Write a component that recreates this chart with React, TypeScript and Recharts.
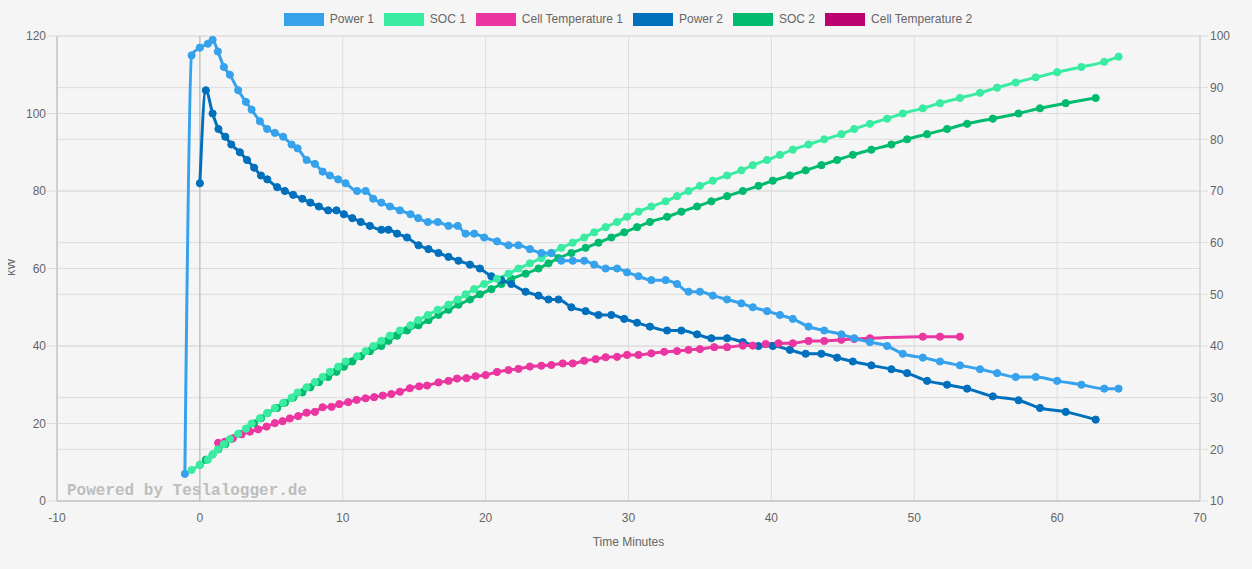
import { LineChart, Line, XAxis, YAxis, CartesianGrid, ReferenceLine } from 'recharts'

// minutes since charge start, one entry per logged sample
const power1Time = [
  -1.05, -0.58, 0, 0.56, 0.89, 1.26, 1.68, 2.1, 2.68, 3.22, 3.62, 4.2, 4.71, 5.25, 5.83, 6.42, 6.84,
  7.47, 8.05, 8.59, 9.1, 9.68, 10.2, 11.0, 11.6, 12.13, 12.7, 13.3, 14.0, 14.74, 15.28, 15.96, 16.65,
  17.4, 18.05, 18.6, 19.2, 19.9, 20.8, 21.6, 22.3, 23.1, 23.9, 24.6, 25.3, 26.1, 26.9, 27.6, 28.4,
  29.2, 29.9, 30.7, 31.6, 32.6, 33.4, 34.2, 35.0, 35.9, 36.9, 37.9, 38.7, 39.7, 40.6, 41.5, 42.6,
  43.7, 44.9, 45.8, 46.9, 48.1, 49.2, 50.6, 51.8, 53.2, 54.6, 55.8, 57.1, 58.5, 60.0, 61.7, 63.3, 64.3
]
const power1 = [
  7, 115, 117, 118, 119, 116, 112, 110, 106, 103, 101, 98, 96, 95, 94, 92, 91, 88, 87, 85, 84, 83, 82,
  80, 80, 78, 77, 76, 75, 74, 73, 72, 72, 71, 71, 69, 69, 68, 67, 66, 66, 65, 64, 64, 62, 62, 62, 61,
  60, 60, 59, 58, 57, 57, 56, 54, 54, 53, 52, 51, 50, 49, 48, 47, 45, 44, 43, 42, 41, 40, 38, 37, 36,
  35, 34, 33, 32, 32, 31, 30, 29, 29
]
const soc1 = [
  null, 16, 17, 18, 19, 20, 21, 22, 23, 24, 25, 26, 27, 28, 29, 30, 31, 32, 33, 34, 35, 36, 37, 38, 39,
  40, 41, 42, 43, 44, 45, 46, 47, 48, 49, 50, 51, 52, 53, 54, 55, 56, 57, 58, 59, 60, 61, 62, 63, 64,
  65, 66, 67, 68, 69, 70, 71, 72, 73, 74, 75, 76, 77, 78, 79, 80, 81, 82, 83, 84, 85, 86, 87, 88, 89,
  90, 91, 92, 93, 94, 95, 96
]

const temp1Time = [
  1.28, 1.75, 2.31, 2.92, 3.5, 4.08, 4.67, 5.25, 5.79, 6.3, 6.88, 7.47, 8.05, 8.59, 9.22, 9.75, 10.38,
  10.97, 11.6, 12.2, 12.8, 13.4, 14.0, 14.7, 15.35, 15.9, 16.7, 17.4, 18.0, 18.66, 19.3, 20.0, 20.8,
  21.6, 22.3, 23.1, 23.9, 24.6, 25.4, 26.1, 26.9, 27.7, 28.4, 29.2, 29.9, 30.7, 31.6, 32.5, 33.4, 34.2,
  35.0, 36.0, 36.9, 38.0, 38.7, 39.6, 40.5, 41.5, 42.6, 43.7, 44.9, 45.8, 46.9, 50.6, 51.8, 53.2
]
const temp1 = [
  15.0, 15.3, 16.2, 17.2, 17.9, 18.5, 19.2, 20.1, 20.6, 21.3, 21.9, 22.8, 23.0, 24.2, 24.3, 25.0, 25.5,
  26.1, 26.5, 26.8, 27.2, 27.6, 28.2, 29.1, 29.6, 29.8, 30.6, 31.0, 31.6, 31.7, 32.2, 32.5, 33.3, 33.8,
  34.1, 34.7, 34.9, 35.1, 35.5, 35.5, 36.2, 36.6, 37.1, 37.2, 37.7, 37.7, 38.1, 38.5, 38.7, 39.0, 39.2,
  39.7, 39.7, 40.1, 40.1, 40.5, 40.7, 40.7, 41.3, 41.3, 41.6, 41.8, 42.0, 42.4, 42.4, 42.4
]

const power2Time = [
  0, 0.42, 0.89, 1.3, 1.78, 2.2, 2.8, 3.3, 3.8, 4.28, 4.72, 5.41, 5.95, 6.53, 7.17, 7.73, 8.33, 8.98,
  9.56, 10.08, 10.67, 11.26, 11.9, 12.7, 13.2, 13.8, 14.5, 15.3, 16.0, 16.7, 17.4, 18.1, 18.9, 19.6,
  20.4, 21.1, 21.8, 22.8, 23.7, 24.4, 25.1, 26.0, 27.0, 27.9, 28.8, 29.7, 30.6, 31.5, 32.7, 33.7, 34.8,
  35.8, 36.9, 38.0, 39.1, 40.1, 41.3, 42.4, 43.5, 44.6, 45.7, 47.0, 48.4, 49.5, 50.9, 52.3, 53.7, 55.5,
  57.3, 58.8, 60.6, 62.7
]
const power2 = [
  82, 106, 100, 96, 94, 92, 90, 88, 86, 84, 83, 81, 80, 79, 78, 77, 76, 75, 75, 74, 73, 72, 71, 70, 70,
  69, 68, 66, 65, 64, 63, 62, 61, 60, 58, 57, 56, 54, 53, 52, 52, 50, 49, 48, 48, 47, 46, 45, 44, 44,
  43, 42, 42, 41, 40, 40, 39, 38, 38, 37, 36, 35, 34, 33, 31, 30, 29, 27, 26, 24, 23, 21
]
const soc2 = [
  17, 18, 19, 20, 21, 22, 23, 24, 25, 26, 27, 28, 29, 30, 31, 32, 33, 34, 35, 36, 37, 38, 39, 40, 41,
  42, 43, 44, 45, 46, 47, 48, 49, 50, 51, 52, 53, 54, 55, 56, 57, 58, 59, 60, 61, 62, 63, 64, 65, 66,
  67, 68, 69, 70, 71, 72, 73, 74, 75, 76, 77, 78, 79, 80, 81, 82, 83, 84, 85, 86, 87, 88
]

const xTicks = [-10, 0, 10, 20, 30, 40, 50, 60, 70]
const kwTicks = [0, 20, 40, 60, 80, 100, 120]
const socTicks = [10, 20, 30, 40, 50, 60, 70, 80, 90, 100]

const legendItems = [
  { name: 'Power 1', color: '#36a2eb' },
  { name: 'SOC 1', color: '#3aeba2' },
  { name: 'Cell Temperature 1', color: '#eb36a2' },
  { name: 'Power 2', color: '#0070bd' },
  { name: 'SOC 2', color: '#00bb6e' },
  { name: 'Cell Temperature 2', color: '#bb0070' }
]

const zip = (xs: number[], ys: (number | null)[]) => xs.map((x, i) => ({ x, y: ys[i] }))

const FONT = "'Liberation Sans', Arial, Helvetica, sans-serif"
const tickStyle = { fill: '#666', fontSize: 12, fontFamily: FONT }

// page background is grey edge to edge in the original
if (typeof document !== 'undefined') {
  document.documentElement.style.background = '#f5f5f5'
  document.body.style.background = '#f5f5f5'
}

function series(data: any[], color: string, axis: string) {
  return (
    <Line
      data={data}
      dataKey="y"
      yAxisId={axis}
      type="monotone"
      stroke={color}
      strokeWidth={3}
      dot={{ r: 3.6, fill: color, stroke: color, strokeWidth: 1 }}
      activeDot={false}
      isAnimationActive={false}
    />
  )
}

export default function App() {
  return (
    <div style={{ position: 'relative', width: 1236, height: 553, fontFamily: FONT, background: '#f5f5f5' }}>
      <div
        style={{
          position: 'absolute', top: 4, left: 0, width: 1236, paddingLeft: 14, boxSizing: 'border-box',
          display: 'flex', justifyContent: 'center', fontSize: 12, color: '#666', lineHeight: '14px'
        }}
      >
        {legendItems.map((item) => (
          <div key={item.name} style={{ display: 'flex', alignItems: 'center', marginRight: 10 }}>
            <span style={{ width: 40, height: 13, background: item.color, marginRight: 6, display: 'inline-block' }} />
            <span>{item.name}</span>
          </div>
        ))}
      </div>

      <LineChart width={1236} height={553} margin={{ top: 28, right: 0, bottom: 10, left: 0 }}>
        <CartesianGrid yAxisId="left" stroke="#dcdcdc" strokeWidth={1} />
        <CartesianGrid yAxisId="right" stroke="#dcdcdc" strokeWidth={1} vertical={false} />
        <XAxis
          type="number"
          dataKey="x"
          domain={[-10, 70]}
          ticks={xTicks}
          allowDataOverflow
          tick={tickStyle}
          tickLine={false}
          tickSize={6}
          tickMargin={6}
          height={50}
          stroke="#b5b5b5"
        />
        <YAxis
          yAxisId="left"
          orientation="left"
          domain={[0, 120]}
          ticks={kwTicks}
          width={49}
          tick={tickStyle}
          tickSize={10}
          tickMargin={1}
          tickLine={{ stroke: '#dcdcdc' }}
          axisLine={{ stroke: '#b5b5b5' }}
        />
        <YAxis
          yAxisId="right"
          orientation="right"
          domain={[10, 100]}
          ticks={socTicks}
          width={44}
          tick={tickStyle}
          tickSize={8}
          tickMargin={2}
          tickLine={{ stroke: '#dcdcdc' }}
          axisLine={{ stroke: '#cfcfcf' }}
        />
        <ReferenceLine x={0} yAxisId="left" stroke="#b5b5b5" />
        {series(zip(power2Time, soc2), '#00bb6e', 'right')}
        {series(zip(power2Time, power2), '#0070bd', 'left')}
        {series(zip(temp1Time, temp1), '#eb36a2', 'left')}
        {series(zip(power1Time, soc1), '#3aeba2', 'right')}
        {series(zip(power1Time, power1), '#36a2eb', 'left')}
      </LineChart>

      <div
        style={{
          position: 'absolute', left: 59, top: 474, fontFamily: "'Liberation Mono', 'Courier New', monospace",
          fontWeight: 'bold', fontSize: 16, color: '#bdbdbd', pointerEvents: 'none', whiteSpace: 'pre'
        }}
      >
        Powered by Teslalogger.de
      </div>
      <div
        style={{
          position: 'absolute', left: -7, top: 252, fontSize: 12, color: '#666',
          transform: 'rotate(-90deg)', transformOrigin: 'center', width: 20, textAlign: 'center'
        }}
      >
        kW
      </div>
      <div
        style={{
          position: 'absolute', left: 49, width: 1143, top: 527, fontSize: 12, color: '#666', textAlign: 'center'
        }}
      >
        Time Minutes
      </div>
    </div>
  )
}
